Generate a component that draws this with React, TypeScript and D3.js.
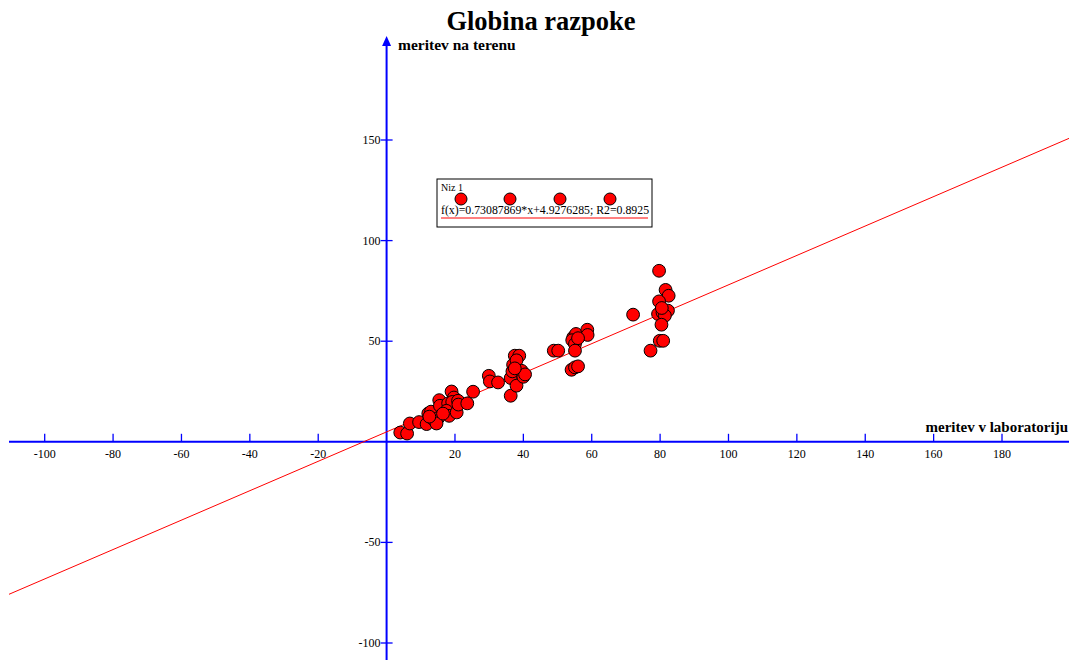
import * as d3 from 'd3';

// meritev v laboratoriju (x) / meritev na terenu (y)
const labValues = [
  4.0, 6.0, 6.8, 9.5, 11.7, 12.2, 13.0, 13.6, 15.1, 14.6, 15.4, 15.6, 19.0, 19.7, 18.0, 19.2,
  20.9, 17.5, 18.3, 20.5, 21.0, 23.6, 25.3, 12.5, 16.5,
  29.9, 30.2, 32.6, 36.3, 36.3, 38.0, 36.8, 37.0, 37.5, 38.8, 38.0, 39.5, 40.0, 40.5, 37.5,
  48.9, 50.2, 54.1, 55.1, 56.0, 54.6, 55.4, 54.3, 55.1, 55.1, 58.7, 58.8, 56.0,
  72.1, 77.2, 79.7, 81.6, 82.5, 79.7, 79.4, 80.7, 82.3, 81.4, 80.4, 79.9, 80.9, 80.5,
];
const fieldValues = [
  4.6, 4.1, 9.1, 9.8, 8.8, 14.1, 15.0, 11.3, 11.8, 9.1, 20.7, 17.9, 25.0, 22.0, 19.1, 19.8,
  20.4, 15.4, 12.9, 14.6, 18.5, 19.1, 24.9, 12.5, 14.0,
  32.8, 30.0, 29.5, 22.9, 31.7, 27.9, 35.0, 38.3, 42.8, 42.8, 40.5, 35.3, 32.3, 33.5, 36.5,
  45.3, 45.3, 35.8, 37.0, 37.5, 51.9, 53.6, 50.5, 48.6, 45.3, 55.7, 53.1, 51.5,
  63.2, 45.3, 85.0, 75.5, 72.6, 69.8, 63.5, 64.3, 65.2, 62.7, 58.2, 50.2, 50.2, 66.5,
];

const xTicks = [-100, -80, -60, -40, -20, 20, 40, 60, 80, 100, 120, 140, 160, 180];
const yTicks = [-100, -50, 50, 100, 150];

const slope = 0.73087869;
const intercept = 4.9276285;
const r2 = 0.8925;

const W = 1069;
const H = 660;
const serif = '"Liberation Serif", "Times New Roman", serif';
const blue = '#0000ff';

export default function App() {
  const x = d3.scaleLinear().domain([-100, 180]).range([44.7, 1002]);
  const y = d3.scaleLinear().domain([-100, 150]).range([643, 140]);
  const x0 = x(0);
  const y0 = y(0);

  const fitX = [x.invert(9), x.invert(W)];
  const fitLine = d3.line<number>()
    .x(d => x(d))
    .y(d => y(slope * d + intercept))(fitX);

  const legend = { x: 437, y: 179, w: 215, h: 48 };
  const legendDots = [461, 510, 560, 610];

  return (
    <svg width={W} height={H} style={{ position: 'absolute', left: 0, top: 0, background: '#fff' }}
      fontFamily={serif}>
      <text x={541} y={30} textAnchor="middle" fontSize={26.5} fontWeight="bold">Globina razpoke</text>

      {/* axes */}
      <line x1={9} x2={W} y1={y0} y2={y0} stroke={blue} strokeWidth={2} />
      <line x1={x0} x2={x0} y1={44} y2={H} stroke={blue} strokeWidth={2} />
      <path d={`M${x0},36 L${x0 - 4.5},46 L${x0 + 4.5},46 Z`} fill={blue} />

      {xTicks.map(t => (
        <g key={'x' + t}>
          <line x1={x(t)} x2={x(t)} y1={y0 - 8} y2={y0} stroke={blue} strokeWidth={1.3} />
          <text x={x(t)} y={y0 + 16} textAnchor="middle" fontSize={12}>{t}</text>
        </g>
      ))}
      {yTicks.map(t => (
        <g key={'y' + t}>
          <line x1={x0 - 6} x2={x0 + 6} y1={y(t)} y2={y(t)} stroke={blue} strokeWidth={1.3} />
          <text x={x0 - 6} y={y(t) + 4} textAnchor="end" fontSize={12}>{t}</text>
        </g>
      ))}

      <text x={398} y={50} fontSize={15.5} fontWeight="bold">meritev na terenu</text>
      <text x={W - 1} y={432} textAnchor="end" fontSize={15} fontWeight="bold">meritev v laboratoriju</text>

      {/* regression */}
      <path d={fitLine ?? ''} fill="none" stroke="#ff0000" strokeWidth={1} />

      {labValues.map((v, i) => (
        <circle key={i} cx={x(v)} cy={y(fieldValues[i])} r={6.4} fill="#ff0000" stroke="#000" strokeWidth={1} />
      ))}

      {/* legend */}
      <rect x={legend.x} y={legend.y} width={legend.w} height={legend.h} fill="#fff" stroke="#000" strokeWidth={1} />
      <text x={legend.x + 4} y={legend.y + 12} fontSize={10}>Niz 1</text>
      {legendDots.map(cx => (
        <circle key={cx} cx={cx} cy={legend.y + 20} r={6} fill="#ff0000" stroke="#000" strokeWidth={1} />
      ))}
      <text x={legend.x + 4} y={legend.y + 35} fontSize={11.8}>
        {`f(x)=${slope}*x+${intercept}; R2=${r2}`}
      </text>
      <line x1={legend.x + 4} x2={legend.x + legend.w - 4} y1={legend.y + 39} y2={legend.y + 39} stroke="#ff0000" strokeWidth={1} />
    </svg>
  );
}
